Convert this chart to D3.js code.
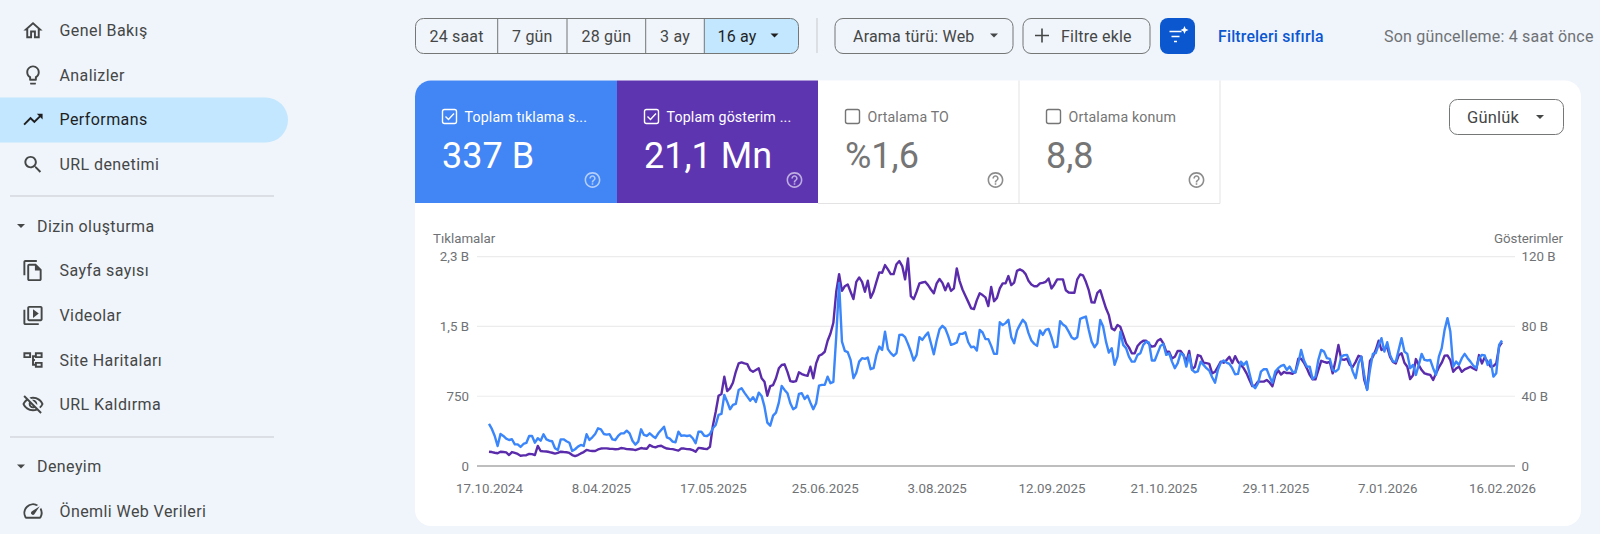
<!DOCTYPE html>
<html>
<head>
<meta charset="utf-8">
<script src="https://cdn.jsdelivr.net/npm/d3@7"></script>
<style>
  html, body { margin: 0; padding: 0; background: #f0f4fb; }
  svg { display: block; font-family: Roboto, sans-serif; }
  .axis path, .axis line { display: none; }
  .axis text { font-family: Roboto, sans-serif; font-size: 13.3px; fill: #6f7275; }
</style>
</head>
<body>
<svg id="chart"></svg>
<script>
// daily clicks (left axis)
const clicks = [
  462,407,330,220,352,330,300,286,294,238,
  238,209,242,253,330,330,256,305,278,349,
  293,278,272,195,176,293,293,272,256,165,
  184,213,231,220,349,286,315,352,414,403,
  352,345,350,293,286,330,359,359,388,359,
  278,235,268,403,341,330,359,330,308,359,
  396,432,315,300,268,261,377,333,337,330,
  337,305,250,377,377,333,330,352,415,451,
  561,572,781,707,624,671,682,836,855,806,
  762,718,756,704,806,770,652,476,443,553,
  586,696,880,836,800,690,624,646,792,800,
  737,773,696,624,690,883,891,891,982,910,
  924,1422,2010,1367,1265,1251,1166,965,1026,1147,
  1185,1177,1191,1064,1075,1221,1312,1276,1477,1284,
  1240,1210,1240,1441,1444,1416,1342,1258,1159,1221,
  1416,1386,1430,1467,1349,1228,1379,1503,1540,1511,
  1430,1331,1342,1357,1452,1452,1470,1360,1305,1312,
  1269,1496,1467,1394,1394,1320,1232,1232,1580,1548,
  1570,1606,1416,1350,1489,1551,1606,1570,1460,1379,
  1342,1320,1489,1441,1496,1507,1416,1305,1312,1592,
  1554,1532,1477,1416,1394,1416,1617,1631,1642,1496,
  1367,1305,1349,1606,1532,1367,1246,1295,1111,1202,
  1477,1331,1295,1202,1147,1147,1221,1240,1331,1367,
  1356,1159,1159,1240,1320,1342,1221,1240,1147,1075,
  1130,1240,1221,1092,1221,1056,1030,1040,1147,1111,
  1075,1048,976,916,1056,1136,1159,1136,1122,1075,
  1009,1012,1147,1111,1147,1020,891,855,910,1037,
  1064,1064,982,916,1037,1075,1100,1111,1056,1092,
  1037,1026,1130,1276,1159,1092,1092,957,982,1166,
  1276,1257,1185,1177,1056,1037,1064,1202,1218,1221,
  1147,1037,965,1130,1202,1001,836,1056,1232,1240,
  1331,1405,1257,1360,1221,1147,1147,1276,1405,1257,
  1232,1075,1111,1001,1111,1232,1166,1159,1166,1075,
  1001,1202,1295,1496,1625,1477,1092,1147,1111,1185,
  1232,1185,1147,1103,1075,1185,1221,1214,1111,1166,
  982,1020,1331,1379
];

// daily impressions in B (right axis)
const impressions = [
  8.2,8.0,7.6,7.3,8.2,8.0,7.8,6.3,8.0,7.5,
  6.9,5.9,6.1,6.2,6.9,6.8,6.3,11.5,8.6,8.4,
  8.3,8.0,7.6,7.1,7.5,8.2,8.0,7.9,7.5,6.3,
  5.7,6.3,7.2,8.0,9.2,8.8,8.6,8.6,9.5,10.0,
  10.1,10.1,9.9,9.8,9.6,9.7,10.3,10.1,9.7,9.6,
  9.5,9.1,9.7,10.3,10.0,9.9,12.0,11.1,10.7,11.4,
  11.6,10.7,10.0,9.8,9.7,9.2,8.8,10.0,10.0,9.7,
  9.6,9.1,8.2,10.4,10.2,9.9,9.7,11.0,23.0,31.1,
  40.3,41.3,51.2,43.0,44.5,47.7,54.0,58.8,59.4,58.8,
  58.4,55.0,54.0,55.0,56.0,50.3,48.3,40.3,45.8,46.4,
  50.3,56.0,57.9,58.3,54.0,48.7,48.3,48.7,53.7,52.7,
  52.1,51.7,56.9,50.3,58.8,63.2,64.0,65.5,71.8,76.0,
  82.1,99.9,110,100.4,103.1,104.1,99.9,95.7,105.6,108.1,
  105.6,99.9,106.2,96.4,99.9,105.6,111,110.8,115.2,112.7,
  110,110,115.7,117.5,114.6,107,119,97.4,95.7,99.9,
  104.7,105.2,105.6,103.7,101.2,99,104.7,107.2,105,100.8,
  104.7,100.4,101.8,113.3,106,101.2,97.6,94.1,90.4,90,
  95.1,99,98,96.7,91.7,102.7,94.5,96.4,101.8,104.7,
  104.7,108.9,103.7,105.2,111.9,112.7,111.9,110,106.2,104.1,
  103.1,103.1,104.7,105,105.6,107.5,101.8,104.1,107,107,
  107,100.8,99.5,99.3,99.3,107,109.8,109.3,105.6,100.8,
  93.8,93.7,99.3,100.8,95.5,90.4,86.5,78.9,77.9,80.8,
  79.8,75.1,70.3,68,64.6,64.6,68.8,70.7,71.8,71.8,
  69.9,68.4,68.8,71.8,72.8,70.3,65.5,65.5,61.7,62.6,
  66,65.9,63.6,59.8,66,55.4,56.9,63.6,63,59.2,
  59,58.6,53.1,54,56.9,59.8,59.2,60.7,62.6,59,
  63,59.8,57.9,56,53.1,49.3,45.8,46.2,48.4,48.4,
  48.4,49.3,47.9,45.7,52,54.9,52.4,53.9,53.3,53.3,
  52.9,53.9,61.5,61.5,59.2,56,52.2,49.7,49.7,54.9,
  60.3,59.7,59.2,59.7,53.1,60.7,69.4,61.1,60.9,61.5,
  57.9,56.9,59.7,63.2,62.6,49.3,44,60.3,62.6,66.5,
  71.8,66.5,67.4,68,62.6,59.7,58.8,63.4,64.7,59.2,
  56.9,49.8,52,61.3,57.9,55,53.1,52.6,52.2,49.3,
  53.1,56.5,59.2,63.2,63.4,60.7,54,55.9,56.9,54,
  55.4,56.1,56.9,55.9,55,63.6,58.8,62.3,59.7,57,
  57.3,58.8,68.4,70.9
];

const dateLabels = ["17.10.2024","8.04.2025","17.05.2025","25.06.2025","3.08.2025","12.09.2025","21.10.2025","29.11.2025","7.01.2026","16.02.2026"];
const dateIndexes = [0,39,78,117,156,196,235,274,313,353];

const clickTicks = [0, 2300 / 3, 4600 / 3, 2300];
const clickLabels = ["0","750","1,5 B","2,3 B"];
const impressionTicks = [0,40,80,120];
const impressionLabels = ["0","40 B","80 B","120 B"];

const rangeLabels = ["24 saat","7 gün","28 gün","3 ay","16 ay"];
const cardTitles = ["Toplam tıklama s...","Toplam gösterim ...","Ortalama TO","Ortalama konum"];
const cardValues = ["337 B","21,1 Mn","%1,6","8,8"];

const icons = {
  home: "M12 5.69l5 4.5V18h-2v-6H9v6H7v-7.81l5-4.5M12 3L2 12h3v8h6v-6h2v6h6v-8h3L12 3z",
  bulb: "M9 21c0 .55.45 1 1 1h4c.55 0 1-.45 1-1v-1H9v1zm3-19C8.14 2 5 5.14 5 9c0 2.38 1.19 4.47 3 5.74V17c0 .55.45 1 1 1h6c.55 0 1-.45 1-1v-2.26c1.81-1.27 3-3.36 3-5.74 0-3.86-3.14-7-7-7zm2.85 11.1l-.85.6V16h-4v-2.3l-.85-.6C7.8 12.16 7 10.63 7 9c0-2.76 2.24-5 5-5s5 2.24 5 5c0 1.63-.8 3.16-2.15 4.1z",
  trend: "M16 6l2.29 2.29-4.88 4.88-4-4L2 16.59 3.41 18l6-6 4 4 6.3-6.29L22 12V6z",
  search: "M15.5 14h-.79l-.28-.27C15.41 12.59 16 11.11 16 9.5 16 5.91 13.09 3 9.5 3S3 5.91 3 9.5 5.91 16 9.5 16c1.61 0 3.09-.59 4.23-1.57l.27.28v.79l5 4.99L20.49 19l-4.99-5zm-6 0C7.01 14 5 11.99 5 9.5S7.01 5 9.5 5 14 7.01 14 9.5 11.99 14 9.5 14z",
  pages: "M16 1H4c-1.1 0-2 .9-2 2v14h2V3h12V1zm-1 4H8c-1.1 0-1.99.9-1.99 2L6 21c0 1.1.89 2 1.99 2H19c1.1 0 2-.9 2-2V11l-6-6zM8 21V7h6v5h5v9H8z",
  video: "M4 6H2v14c0 1.1.9 2 2 2h14v-2H4V6zm16-4H8c-1.1 0-2 .9-2 2v12c0 1.1.9 2 2 2h12c1.1 0 2-.9 2-2V4c0-1.1-.9-2-2-2zm0 14H8V4h12v12zM12 5.5v9l6-4.5z",
  sitemap: "M2 4h8v6H2V4zm2 2v2h4V6H4zm10-2h8v6h-8V4zm2 2v2h4V6h-4zm-2 8h8v6h-8v-6zm2 2v2h4v-2h-4zM11 7h3v2h-1v2h1v2h-1v3h1v2h-3V7z",
  hide: "M12 6c3.79 0 7.17 2.13 8.82 5.5-.59 1.22-1.42 2.27-2.41 3.12l1.41 1.41c1.39-1.23 2.49-2.77 3.18-4.53C21.27 7.11 17 4 12 4c-1.27 0-2.49.2-3.64.57l1.65 1.65C10.66 6.09 11.32 6 12 6zm-1.07 1.14L13 9.21c.57.25 1.03.71 1.28 1.28l2.07 2.07c.08-.34.14-.7.14-1.07C16.5 9.01 14.48 7 12 7c-.37 0-.72.05-1.07.14zM2.01 3.87l2.68 2.68C3.06 7.83 1.77 9.53 1 11.5 2.73 15.89 7 19 12 19c1.52 0 2.98-.29 4.32-.82l3.42 3.42 1.41-1.41L3.42 2.45 2.01 3.87zm7.5 7.5l2.61 2.61c-.04.01-.08.02-.12.02-1.38 0-2.5-1.12-2.5-2.5 0-.05.01-.08.01-.13zm-3.4-3.4l1.75 1.75c-.23.55-.36 1.15-.36 1.78 0 2.48 2.02 4.5 4.5 4.5.63 0 1.23-.13 1.77-.36l.98.98c-.88.24-1.8.38-2.75.38-3.79 0-7.17-2.13-8.82-5.5.7-1.43 1.72-2.61 2.93-3.53z",
  speed: "M20.38 8.57l-1.23 1.85a8 8 0 0 1-.22 7.58H5.07A8 8 0 0 1 15.58 6.85l1.85-1.23A10 10 0 0 0 3.35 19a2 2 0 0 0 1.72 1h13.85a2 2 0 0 0 1.74-1 10 10 0 0 0-.27-10.44zm-9.79 6.84a2 2 0 0 0 2.83 0l5.66-8.49-8.49 5.66a2 2 0 0 0 0 2.83z",
  help: "M11 18h2v-2h-2v2zm1-16C6.48 2 2 6.48 2 12s4.48 10 10 10 10-4.48 10-10S17.52 2 12 2zm0 18c-4.41 0-8-3.59-8-8s3.59-8 8-8 8 3.59 8 8-3.59 8-8 8zm0-14c-2.21 0-4 1.79-4 4h2c0-1.1.9-2 2-2s2 .9 2 2c0 2-3 1.75-3 5h2c0-2.25 3-2.5 3-5 0-2.21-1.79-4-4-4z"
};

const navItems = [
  {label: "Genel Bakış", y: 30.5, icon: "home"},
  {label: "Analizler", y: 75, icon: "bulb"},
  {label: "Performans", y: 119.5, icon: "trend", active: true},
  {label: "URL denetimi", y: 164.5, icon: "search"},
  {label: "Sayfa sayısı", y: 270.5, icon: "pages"},
  {label: "Videolar", y: 315.5, icon: "video"},
  {label: "Site Haritaları", y: 360, icon: "sitemap"},
  {label: "URL Kaldırma", y: 404.5, icon: "hide"},
  {label: "Önemli Web Verileri", y: 511, icon: "speed"}
];
const navGroups = [{label: "Dizin oluşturma", y: 226}, {label: "Deneyim", y: 466.5}];
const navDividers = [196, 437];

const width = 1600, height = 534;
const plot = {left: 477, right: 1515, top: 256.7, bottom: 466, first: 489, last: 1502};

const svg = d3.select("#chart").attr("width", width).attr("height", height);

function addText(g, x, y, str, size, color, anchor) {
  return g.append("text")
    .attr("x", x).attr("y", y)
    .attr("dy", "0.35em")
    .attr("font-size", size)
    .attr("fill", color)
    .attr("text-anchor", anchor || "start")
    .text(str);
}

function addCaret(g, cx, cy, color, r) {
  g.append("path")
    .attr("d", `M${cx - r},${cy - r / 2}h${2 * r}l${-r},${r}z`)
    .attr("fill", color);
}

function addIcon(g, name, cx, cy, size, color) {
  const k = size / 24;
  g.append("path")
    .attr("d", icons[name])
    .attr("transform", `translate(${cx - 12 * k},${cy - 12 * k}) scale(${k})`)
    .attr("fill", color);
}

// sidebar
const side = svg.append("g");
side.append("path")
  .attr("d", "M0,97.5H265.5a22.5,22.5 0 0 1 0,45H0z")
  .attr("fill", "#c2e7ff");

navItems.forEach(d => {
  const color = d.active ? "#1f1f1f" : "#444746";
  addIcon(side, d.icon, 33, d.y, 23, color);
  addText(side, 59.5, d.y, d.label, 16, color).attr("letter-spacing", "0.42px");
});
navGroups.forEach(d => {
  addCaret(side, 21, d.y, "#444746", 4);
  addText(side, 37, d.y, d.label, 16, "#444746").attr("letter-spacing", "0.42px");
});
navDividers.forEach(y => {
  side.append("line").attr("x1", 10).attr("x2", 274).attr("y1", y).attr("y2", y).attr("stroke", "#c7c9cc");
});

// range picker
const rangeEdges = [415.5, 497.7, 567, 645.7, 704.3, 798.5];
const toolbar = svg.append("g");
toolbar.append("path")
  .attr("d", "M704.3,18H790.5a8,8 0 0 1 8,8V45a8,8 0 0 1 -8,8H704.3z")
  .attr("fill", "#c2e7ff");
toolbar.append("rect")
  .attr("x", 415.5).attr("y", 18.5).attr("width", 383).attr("height", 35).attr("rx", 8)
  .attr("fill", "none").attr("stroke", "#747775");
rangeEdges.slice(1, 5).forEach(x => {
  toolbar.append("line").attr("x1", x).attr("x2", x).attr("y1", 18.5).attr("y2", 53.5).attr("stroke", "#747775");
});
rangeLabels.forEach((label, i) => {
  const cx = i < 4 ? (rangeEdges[i] + rangeEdges[i + 1]) / 2 : 737;
  addText(toolbar, cx, 36, label, 16, i == 4 ? "#1f1f1f" : "#444746", "middle").attr("letter-spacing", "0.2px");
});
addCaret(toolbar, 774.5, 35.5, "#1f1f1f", 4);

toolbar.append("line").attr("x1", 817).attr("x2", 817).attr("y1", 18).attr("y2", 53).attr("stroke", "#c7c9cc");

toolbar.append("rect").attr("x", 835).attr("y", 18.5).attr("width", 178).attr("height", 35).attr("rx", 8)
  .attr("fill", "none").attr("stroke", "#747775");
addText(toolbar, 853, 36, "Arama türü: Web", 16, "#444746").attr("letter-spacing", "0.2px");
addCaret(toolbar, 994, 35.5, "#444746", 4);

toolbar.append("rect").attr("x", 1023).attr("y", 18.5).attr("width", 127).attr("height", 35).attr("rx", 8)
  .attr("fill", "none").attr("stroke", "#747775");
toolbar.append("path").attr("d", "M1042,28.5v14M1035,35.5h14").attr("stroke", "#444746").attr("stroke-width", 1.6);
addText(toolbar, 1061, 36, "Filtre ekle", 16, "#444746").attr("letter-spacing", "0.2px");

toolbar.append("rect").attr("x", 1160).attr("y", 18).attr("width", 35).attr("height", 36).attr("rx", 8).attr("fill", "#0b57d0");
toolbar.append("path").attr("d", "M1169.5,31.5h12M1171.5,36.5h8M1174,41.5h3").attr("stroke", "#ffffff").attr("stroke-width", 1.6);
toolbar.append("path").attr("d", "M1184.5,26l1.2,2.8 2.8,1.2-2.8,1.2-1.2,2.8-1.2-2.8-2.8-1.2 2.8-1.2z").attr("fill", "#ffffff");

addText(toolbar, 1218, 36, "Filtreleri sıfırla", 15.8, "#0b57d0").attr("letter-spacing", "0.2px").attr("font-weight", 500);
addText(toolbar, 1384, 36, "Son güncelleme: 4 saat önce", 16, "#6f7275").attr("letter-spacing", "0.2px");

// white panel and metric cards
const panel = svg.append("g");
panel.append("rect").attr("x", 415).attr("y", 80.5).attr("width", 1166).attr("height", 445.5).attr("rx", 16).attr("fill", "#ffffff");

const cardEdges = [415, 617, 818, 1019, 1220];
const cardFill = ["#4285f4", "#5e35b1", null, null];
cardTitles.forEach((title, i) => {
  const x0 = cardEdges[i], x1 = cardEdges[i + 1];
  const on = cardFill[i] != null;
  if (i == 0) {
    panel.append("path").attr("d", `M${x0},203V96.5a16,16 0 0 1 16,-16H${x1}V203z`).attr("fill", cardFill[i]);
  } else if (on) {
    panel.append("rect").attr("x", x0).attr("y", 80.5).attr("width", x1 - x0).attr("height", 122.5).attr("fill", cardFill[i]);
  } else {
    panel.append("path").attr("d", `M${x1},80.5V203.5H${x0}`).attr("fill", "none").attr("stroke", "#e3e3e3");
  }
  const ink = on ? "#ffffff" : "#757575";
  const left = x0 + (on ? 27 : 27);
  panel.append("rect").attr("x", left + 0.5).attr("y", 109.5).attr("width", 14).attr("height", 14).attr("rx", 2)
    .attr("fill", "none").attr("stroke", ink).attr("stroke-width", 1.4);
  if (on) {
    panel.append("path").attr("d", `M${left + 3.5},116.5l3,3 5.5,-6`).attr("fill", "none").attr("stroke", ink).attr("stroke-width", 1.4);
  }
  addText(panel, left + 22.5, 117, title, 14.2, ink).attr("letter-spacing", "0.15px");
  addText(panel, left, 155.5, cardValues[i], 36, ink);
  addIcon(panel, "help", x0 + 177.5, 180, 19, on ? "rgba(255,255,255,0.6)" : "#8c8c8c");
});

panel.append("rect").attr("x", 1449.5).attr("y", 99.5).attr("width", 114).attr("height", 35).attr("rx", 8)
  .attr("fill", "none").attr("stroke", "#747775");
addText(panel, 1467, 117, "Günlük", 16.5, "#444746").attr("letter-spacing", "0.2px");
addCaret(panel, 1540, 117, "#444746", 4);

// chart
const xScale = d3.scaleLinear().domain([0, clicks.length - 1]).range([plot.first, plot.last]);
const yClicks = d3.scaleLinear().domain([0, 2300]).range([plot.bottom, plot.top]);
const yImpressions = d3.scaleLinear().domain([0, 120]).range([plot.bottom, plot.top]);

const chart = svg.append("g");

chart.selectAll(".grid")
  .data(clickTicks.slice(1))
  .enter()
  .append("line")
  .attr("class", "grid")
  .attr("x1", plot.left).attr("x2", plot.right)
  .attr("y1", d => yClicks(d)).attr("y2", d => yClicks(d))
  .attr("stroke", "#ececec").attr("stroke-width", 1.2);

chart.append("line")
  .attr("x1", plot.left).attr("x2", plot.right)
  .attr("y1", plot.bottom).attr("y2", plot.bottom)
  .attr("stroke", "#a8a8a8").attr("stroke-width", 1.4);

chart.append("g").attr("class", "axis")
  .attr("transform", `translate(${plot.left},0)`)
  .call(d3.axisLeft(yClicks).tickValues(clickTicks).tickSize(0).tickPadding(8)
    .tickFormat((d, i) => clickLabels[i]));

chart.append("g").attr("class", "axis")
  .attr("transform", `translate(${plot.right},0)`)
  .call(d3.axisRight(yImpressions).tickValues(impressionTicks).tickSize(0).tickPadding(6.5)
    .tickFormat((d, i) => impressionLabels[i]));

chart.append("g").attr("class", "axis")
  .attr("transform", `translate(0,${plot.bottom + 14.5})`)
  .call(d3.axisBottom(xScale).tickValues(dateIndexes).tickSize(0).tickPadding(3)
    .tickFormat((d, i) => dateLabels[i]));

addText(chart, 433, 238, "Tıklamalar", 13.3, "#6f7275");
addText(chart, 1563, 238, "Gösterimler", 13.3, "#6f7275", "end");

const clickLine = d3.line().x((d, i) => xScale(i)).y(d => yClicks(d));
const impressionLine = d3.line().x((d, i) => xScale(i)).y(d => yImpressions(d));

chart.append("path")
  .attr("d", impressionLine(impressions))
  .attr("fill", "none")
  .attr("stroke", "#5a2cab")
  .attr("stroke-width", 2.4)
  .attr("stroke-linejoin", "round");

chart.append("path")
  .attr("d", clickLine(clicks))
  .attr("fill", "none")
  .attr("stroke", "#3a86fa")
  .attr("stroke-width", 2.4)
  .attr("stroke-linejoin", "round");
</script>
</body>
</html>
